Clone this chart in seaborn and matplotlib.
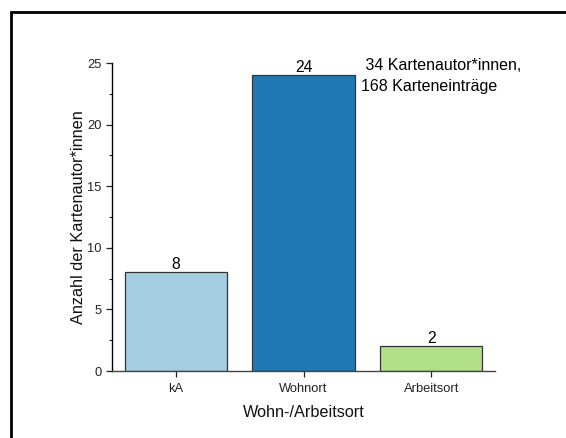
import matplotlib
matplotlib.use("Agg")
import matplotlib.pyplot as plt
from matplotlib.patches import Rectangle
from matplotlib.ticker import MultipleLocator
import seaborn as sns
import pandas as pd

categories = ["kA", "Wohnort", "Arbeitsort"]
counts = [8, 24, 2]
colors = ["#a6cee3", "#1f78b4", "#b2df8a"]
note_lines = [" 34 Kartenautor*innen,", "168 Karteneinträge"]

sns.set_theme(style="white")
plt.rcParams["font.family"] = ["Liberation Sans", "DejaVu Sans"]

df = pd.DataFrame({"Ort": categories, "Anzahl": counts})

fig = plt.figure(figsize=(5.66, 4.38), dpi=100)
ax = fig.add_axes([112 / 566, 1 - 371 / 438, (495 - 112) / 566, (371 - 63) / 438])

sns.barplot(data=df, x="Ort", y="Anzahl", hue="Ort", palette=colors,
            order=categories, hue_order=categories, width=0.8,
            edgecolor="#333333", linewidth=0.9, saturation=1,
            legend=False, ax=ax)

for cont in ax.containers:
    ax.bar_label(cont, fmt="%d", padding=0.5, fontsize=11.3, color="black")

ax.set_xlim(-0.5, 2.5)
ax.set_ylim(0, 25)
ax.yaxis.set_major_locator(MultipleLocator(5))
ax.yaxis.set_minor_locator(MultipleLocator(2.5))

ax.set_xlabel("Wohn-/Arbeitsort", fontsize=11.7, labelpad=7, color="#111111")
ax.set_ylabel("Anzahl der Kartenautor*innen", fontsize=11.7, labelpad=1, color="#111111")

for s in ["top", "right"]:
    ax.spines[s].set_visible(False)
ax.spines["left"].set_color("black")
ax.spines["bottom"].set_color("#444444")
ax.spines["left"].set_linewidth(1.0)
ax.spines["bottom"].set_linewidth(1.0)

ax.tick_params(axis="x", which="major", pad=5)
ax.tick_params(axis="both", which="major", direction="out", length=4, width=0.9,
               labelsize=9.3, colors="#222222", left=True, bottom=True)
ax.tick_params(axis="y", which="minor", direction="out", length=2.5, width=0.8,
               left=True, colors="#222222")

# sample size note beside the tallest bar
fig.text(361 / 566, 1 - 70 / 438, note_lines[0], fontsize=11.5, color="black",
         ha="left", va="baseline")
fig.text(361 / 566, 1 - 91 / 438, note_lines[1], fontsize=11.5, color="black",
         ha="left", va="baseline")

# outer frame around the figure panel
frame = Rectangle((11 / 566, -0.1), 1.2, 1 - 12 / 438 + 0.1,
                  transform=fig.transFigure, fill=False, edgecolor="black",
                  linewidth=2, clip_on=False)
fig.patches.append(frame)

fig.savefig("out.png", dpi=100)
